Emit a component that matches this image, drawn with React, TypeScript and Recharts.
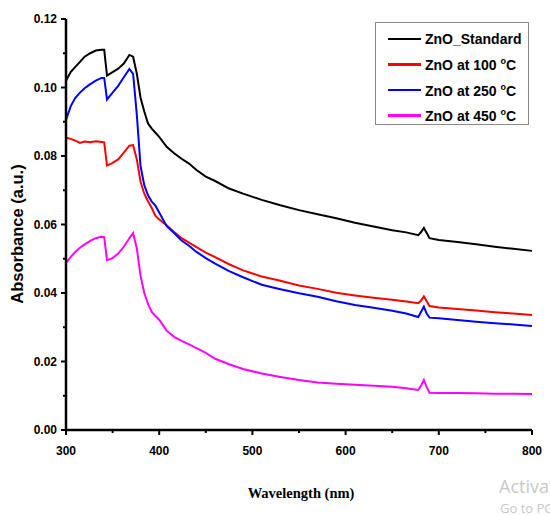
import { Line, LineChart, XAxis, YAxis } from "recharts";

const wavelengths = [
  300, 305, 310, 315, 320, 326, 332, 338, 341, 344, 350, 356, 362, 368, 372, 376, 380, 384, 388, 392, 396, 400,
  408, 416, 424, 432, 440, 450, 460, 475, 490, 510, 530, 550, 570, 590, 610, 630, 650, 665, 678, 681, 684, 687,
  690, 700, 720, 740, 760, 780, 800
];

const standard = [
  0.102, 0.1045, 0.106, 0.1075, 0.109, 0.11, 0.1108, 0.111, 0.111, 0.1035, 0.1045, 0.1055, 0.107, 0.1095, 0.109,
  0.104, 0.097, 0.093, 0.0895, 0.088, 0.0868, 0.0856, 0.0827, 0.0808, 0.0792, 0.0778, 0.0759, 0.074, 0.0727,
  0.0705, 0.069, 0.0672, 0.0656, 0.0642, 0.063, 0.0618, 0.0605, 0.0594, 0.0583, 0.0577, 0.0569, 0.0578, 0.059,
  0.0575, 0.056, 0.0555, 0.0549, 0.0542, 0.0535, 0.0529, 0.0523
];

const at100 = [
  0.0853, 0.085, 0.0845, 0.0838, 0.0842, 0.084, 0.0843, 0.0841, 0.084, 0.0772, 0.078, 0.079, 0.081, 0.083, 0.0832,
  0.079, 0.0725, 0.069, 0.0668, 0.0648, 0.0625, 0.0615, 0.0598, 0.0578, 0.056, 0.0547, 0.0534, 0.0518, 0.0505,
  0.0484, 0.0466, 0.0448, 0.0436, 0.0422, 0.0412, 0.0401, 0.0393, 0.0386, 0.038, 0.0375, 0.037, 0.0378, 0.039,
  0.0376, 0.0362, 0.0358, 0.0353, 0.0349, 0.0344, 0.034, 0.0336
];

const at250 = [
  0.0905, 0.0945, 0.097, 0.0985, 0.0998, 0.101, 0.102, 0.1028, 0.1028, 0.0965, 0.0985, 0.1005, 0.103, 0.1054,
  0.104, 0.092, 0.077, 0.0715, 0.0685, 0.0667, 0.0655, 0.0635, 0.0595, 0.0575, 0.0553, 0.0538, 0.052, 0.0502,
  0.0486, 0.0464, 0.0446, 0.0424, 0.0411, 0.0399, 0.0389, 0.0376, 0.0365, 0.0357, 0.0348, 0.034, 0.033, 0.0345,
  0.036, 0.034, 0.0328, 0.0326, 0.0321, 0.0316, 0.0312, 0.0308, 0.0304
];

const at450 = [
  0.0488, 0.0505, 0.052, 0.0532, 0.0542, 0.0552, 0.056, 0.0564, 0.0563, 0.0496, 0.0502, 0.0515, 0.0535, 0.056,
  0.0575, 0.053, 0.045, 0.04, 0.0368, 0.0345, 0.0333, 0.0322, 0.029, 0.0272, 0.026, 0.025, 0.0239, 0.0225, 0.0208,
  0.0192, 0.0178, 0.0165, 0.0155, 0.0146, 0.0139, 0.0135, 0.0132, 0.0129, 0.0126, 0.0122, 0.0117, 0.013, 0.0146,
  0.0125, 0.0109, 0.0108, 0.0108, 0.0107, 0.0106, 0.0106, 0.0105
];

const xTicks = [300, 350, 400, 450, 500, 550, 600, 650, 700, 750, 800];
const yTicks = [0, 0.01, 0.02, 0.03, 0.04, 0.05, 0.06, 0.07, 0.08, 0.09, 0.1, 0.11, 0.12];

const series = [
  { key: "std", label: "ZnO_Standard", temp: "", color: "#000000" },
  { key: "t100", label: "ZnO at 100 ", temp: "C", color: "#ff0000" },
  { key: "t250", label: "ZnO at 250 ", temp: "C", color: "#0000ff" },
  { key: "t450", label: "ZnO at 450 ", temp: "C", color: "#ff00ff" }
];

const data = wavelengths.map((wl, i) => ({
  wl,
  std: standard[i],
  t100: at100[i],
  t250: at250[i],
  t450: at450[i]
}));

const sans = "'Liberation Sans', Arial, sans-serif";

function XTick({ x, y, payload }: any) {
  const major = payload.value % 100 === 0;
  return (
    <g>
      <line x1={x} x2={x} y1={y} y2={y + (major ? 5 : 3)} stroke="#000" strokeWidth={2} />
      {major && (
        <text x={x} y={y + 25} textAnchor="middle" fontFamily={sans} fontWeight="bold" fontSize={12} fill="#000">
          {payload.value}
        </text>
      )}
    </g>
  );
}

function YTick({ x, y, payload }: any) {
  const major = Math.round(payload.value * 100) % 2 === 0;
  return (
    <g>
      <line x1={x - (major ? 5 : 3)} x2={x} y1={y} y2={y} stroke="#000" strokeWidth={2} />
      {major && (
        <text x={x - 9} y={y + 4} textAnchor="end" fontFamily={sans} fontWeight="bold" fontSize={12} fill="#000">
          {payload.value.toFixed(2)}
        </text>
      )}
    </g>
  );
}

export default function App() {
  return (
    <div style={{ position: "absolute", left: 0, top: 0, width: 550, height: 515, background: "#fff", overflow: "hidden" }}>
      <LineChart width={550} height={515} data={data} margin={{ top: 19, right: 18, bottom: 55, left: 6 }}>
        <XAxis
          dataKey="wl"
          type="number"
          domain={[300, 800]}
          ticks={xTicks}
          height={30}
          tickSize={0}
          tickMargin={0}
          tick={<XTick />}
          axisLine={{ stroke: "#000", strokeWidth: 2.5 }}
          tickLine={false}
        />
        <XAxis
          xAxisId="top"
          orientation="top"
          dataKey="wl"
          type="number"
          domain={[300, 800]}
          height={0}
          tick={false}
          tickLine={false}
          axisLine={{ stroke: "#000", strokeWidth: 2.5 }}
        />
        <YAxis
          type="number"
          domain={[0, 0.12]}
          ticks={yTicks}
          width={60}
          tickSize={0}
          tickMargin={0}
          tick={<YTick />}
          axisLine={{ stroke: "#000", strokeWidth: 2.5 }}
          tickLine={false}
        />
        <YAxis
          yAxisId="right"
          orientation="right"
          type="number"
          domain={[0, 0.12]}
          width={0}
          tick={false}
          tickLine={false}
          axisLine={{ stroke: "#000", strokeWidth: 2.5 }}
        />
        {series.map((s) => (
          <Line
            key={s.key}
            type="linear"
            dataKey={s.key}
            stroke={s.color}
            strokeWidth={2}
            dot={false}
            isAnimationActive={false}
          />
        ))}
      </LineChart>

      <div
        style={{
          position: "absolute",
          left: 17,
          top: 234,
          transform: "translate(-50%, -50%) rotate(-90deg)",
          fontFamily: sans,
          fontWeight: "bold",
          fontSize: 16.5,
          whiteSpace: "nowrap"
        }}
      >
        Absorbance (a.u.)
      </div>
      <div
        style={{
          position: "absolute",
          left: 301,
          top: 493,
          transform: "translate(-50%, -50%)",
          fontFamily: "'Liberation Serif', 'Times New Roman', serif",
          fontWeight: "bold",
          fontSize: 14.5,
          whiteSpace: "nowrap"
        }}
      >
        Wavelength (nm)
      </div>

      <div
        style={{
          position: "absolute",
          left: 375,
          top: 22,
          width: 154,
          height: 103,
          border: "1px solid #8a8a8a",
          background: "#fff",
          boxSizing: "border-box"
        }}
      >
        {series.map((s, i) => (
          <div
            key={s.key}
            style={{ position: "absolute", left: 12, top: 6 + i * 25.5, height: 20, display: "flex", alignItems: "center" }}
          >
            <span style={{ display: "inline-block", width: 33, height: 2.5, background: s.color, marginRight: 4 }} />
            <span style={{ fontFamily: sans, fontWeight: "bold", fontSize: 14, whiteSpace: "nowrap", color: "#000" }}>
              {s.label}
              {s.temp && (
                <>
                  <sup style={{ fontSize: 9 }}>o</sup>
                  {s.temp}
                </>
              )}
            </span>
          </div>
        ))}
      </div>

      <div style={{ position: "absolute", left: 499, top: 474, color: "#c8c8c8", fontFamily: "'Open Sans', sans-serif", fontSize: 18, whiteSpace: "nowrap" }}>
        Activate Windows
      </div>
      <div style={{ position: "absolute", left: 500, top: 499, color: "#c8c8c8", fontFamily: "'Open Sans', sans-serif", fontSize: 13, whiteSpace: "nowrap" }}>
        Go to PC settings
      </div>
    </div>
  );
}
